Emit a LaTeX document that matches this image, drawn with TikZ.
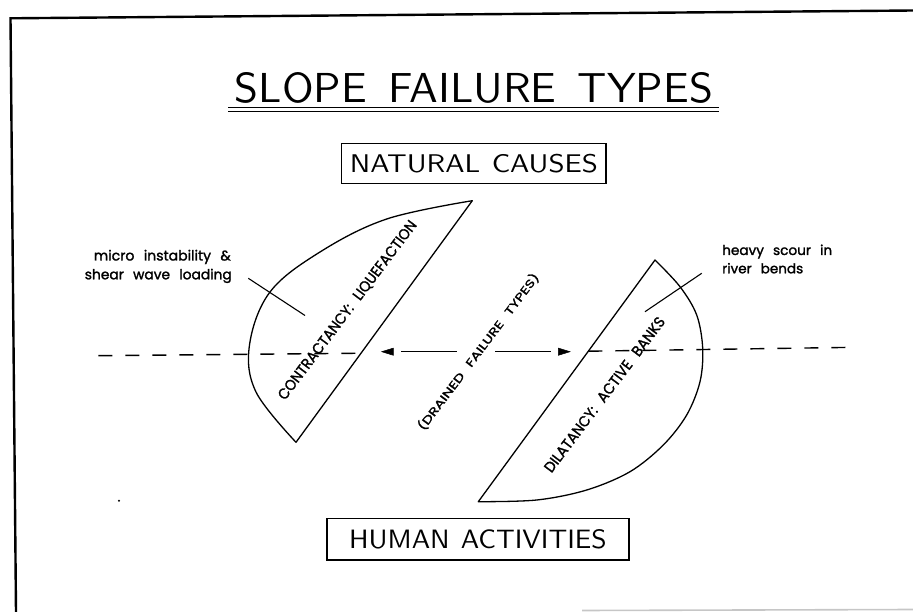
\documentclass[tikz,border=0pt]{standalone}
\usepackage{fontspec}
\newfontfamily\geo[WordSpace=2.5,FakeBold=1.6]{Poppins}
\begin{document}
\begin{tikzpicture}[x=1pt,y=-1pt,
  outline/.style={line width=1.3pt, line join=round},
  framel/.style={line width=2.4pt, line join=miter},
  capbox/.style={draw, line width=1.2pt, inner sep=0pt},
  lbl/.style={inner sep=0pt, font=\geo},
  dashln/.style={line width=1.4pt, dash pattern=on 14pt off 13pt},
  ptr/.style={line width=1.1pt},
  head/.style={fill=black, draw=black, line width=0.5pt, line join=miter}
]
\useasboundingbox (0,0) rectangle (913,612);

% frame
\draw[framel] (16,612) -- (10.5,18.3) -- (913,10.5);
\draw[gray!45, line width=1.6pt] (582,610.5) -- (913,609.5);

% title
\node[inner sep=0pt] (title) at (474,88.3)
  {\resizebox{478pt}{30pt}{\sffamily\addfontfeature{LetterSpace=10}SLOPE\hspace{0.5em}FAILURE\hspace{0.5em}TYPES}};
\draw[line width=1.3pt] (228,107.7) -- (719,107.7);
\draw[line width=1.3pt] (228,111.7) -- (719,111.7);

% boxes
\node[capbox, minimum width=264.3pt, minimum height=40pt] (natural) at (473.9,163.3)
  {\resizebox{248pt}{18.3pt}{\sffamily\addfontfeature{LetterSpace=10}NATURAL\hspace{0.4em}CAUSES}};
\node[capbox, minimum width=302pt, minimum height=41.7pt] (human) at (478,539.2)
  {\resizebox{257.5pt}{19pt}{\sffamily\addfontfeature{LetterSpace=10}HUMAN\hspace{0.4em}ACTIVITIES}};

% left failure shape (contractancy)
\draw[outline] plot[smooth, tension=0.6] coordinates {
  (472.3,200.7) (386.7,219) (320,252) (270,292) (249.5,345) (256,392) (296,442.3)}
  -- cycle;

% right failure shape (dilatancy)
\draw[outline] plot[smooth, tension=0.55] coordinates {
  (655,260) (680,286.7) (696.7,315) (702.7,348.3) (700,381.7) (686.7,415)
  (663.3,445) (630,471.7) (586.7,490) (536.7,500) (478.3,501.7)}
  -- cycle;

% dashed axis
\coordinate (dL1) at (98.3,355.7);
\coordinate (dL2) at (363.3,353.2);
\coordinate (dR1) at (588.3,351.2);
\coordinate (dR2) at (855,347.3);
\draw[dashln] (dL1) -- (dL2);
\draw[dashln] (dR1) -- (dR2);

% drained failure arrows
\coordinate (aL) at (381.7,351.7);
\coordinate (aR) at (570,351.7);
\fill[head] (aL) -- ++(11.6,-3.6) -- ++(0,7.2) -- cycle;
\fill[head] (aR) -- ++(-11.6,-3.6) -- ++(0,7.2) -- cycle;
\draw[line width=1.3pt] (401,351.7) coordinate (lL1) -- (456.7,351.7) coordinate (lL2);
\draw[line width=1.3pt] (495,351.7) coordinate (lR1) -- (550.5,351.7) coordinate (lR2);

% rotated labels
\node[lbl, rotate=53] (contr) at (347.8,310.5)
  {\resizebox{220pt}{10.5pt}{CONTRACTANCY: LIQUEFACTION}};
\node[lbl, rotate=53] (dilat) at (604.5,394.5)
  {\resizebox{190pt}{10.5pt}{DILATANCY: ACTIVE BANKS}};
\node[lbl, rotate=53] (drained) at (478.3,351.7)
  {\resizebox{193pt}{10.5pt}{(DRAINED FAILURE TYPES)}};

% side labels
\node[lbl, anchor=base east] (micro1) at (231,260.5)
  {\resizebox{137pt}{!}{micro instability \&}};
\node[lbl, anchor=base east] (micro2) at (232,279.3)
  {\resizebox{147pt}{!}{shear wave loading}};
\node[lbl, anchor=base west] (scour1) at (722,255)
  {\resizebox{110pt}{!}{heavy scour in}};
\node[lbl, anchor=base west] (scour2) at (722,273.3)
  {\resizebox{81pt}{!}{river bends}};

% pointer lines
\coordinate (pL1) at (248.3,278.3);
\coordinate (pL2) at (305,315.5);
\coordinate (pR1) at (701.7,273.3);
\coordinate (pR2) at (645,311.7);
\draw[ptr] (pL1) -- (pL2);
\draw[ptr] (pR1) -- (pR2);

% stray dot
\fill (119,500.7) circle (1.2pt);
\end{tikzpicture}
\end{document}
